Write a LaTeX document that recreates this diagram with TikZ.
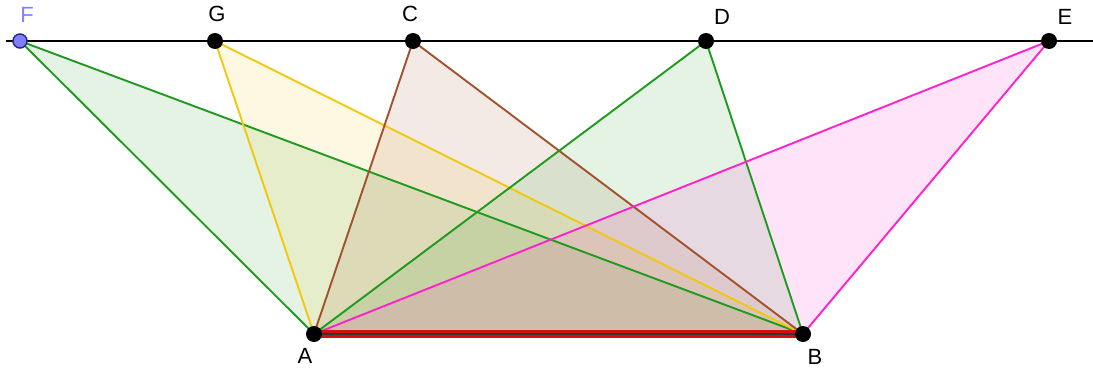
\documentclass[tikz,border=0pt]{standalone}
\usepackage{fontspec}
\setmainfont{Liberation Sans}
\usepackage{tikz}
\usetikzlibrary{positioning}
\definecolor{ggbgreen}{HTML}{1E9A1E}
\definecolor{ggbyellow}{HTML}{F2C80F}
\definecolor{ggbbrown}{HTML}{A0522D}
\definecolor{ggbpink}{HTML}{FF22CC}
\definecolor{ggbred}{HTML}{D01010}
\definecolor{ggbblue}{HTML}{7F7FFF}
\definecolor{ggbnavy}{HTML}{2A2A80}
\tikzset{
  pt/.style={circle,fill=black,inner sep=0pt,minimum size=16pt},
  lab/.style={font=\fontsize{22}{26}\selectfont,inner sep=0pt},
}

\begin{document}
\begin{tikzpicture}[x=1pt,y=-1pt,line width=1.9pt]
  \useasboundingbox (0,0) rectangle (1093,370);
  \coordinate (A) at (314,334);
  \coordinate (B) at (803,334);
  \coordinate (F) at (20,41);
  \coordinate (G) at (215,41);
  \coordinate (C) at (413,41);
  \coordinate (D) at (706,41);
  \coordinate (E) at (1049,41);
  \coordinate (l0) at (6,41);
  \coordinate (l1) at (1093,41);
  % the parallel through the tops
  \draw[black] (l0) -- (l1);
  % triangles on base AB
  \foreach \p/\c in {F/ggbgreen,G/ggbyellow,C/ggbbrown,D/ggbgreen,E/ggbpink} {
    \fill[\c,fill opacity=0.12] (A) -- (\p) -- (B) -- cycle;
  }
  \foreach \p/\c in {F/ggbgreen,G/ggbyellow,C/ggbbrown,D/ggbgreen,E/ggbpink} {
    \draw[\c] (A) -- (\p) -- (B);
  }
  \draw[ggbred,line width=8pt] (A) -- (B);
  \draw[black!80,line width=2.6pt] (A) -- (B);
  % points
  \foreach \p in {A,B,G,C,D,E} {
    \node[pt] (n\p) at (\p) {};
  }
  \node[pt,fill=ggbblue,draw=ggbnavy,line width=1.5pt,minimum size=14pt] (nF) at (F) {};
  % labels
  \node[lab,text=ggbblue] (tF) at (27,15) {F};
  \node[lab] (tG) at (217,14) {G};
  \node[lab] (tC) at (410,14) {C};
  \node[lab] (tD) at (722,17) {D};
  \node[lab] (tE) at (1065,17) {E};
  \node[lab] (tA) at (305,356) {A};
  \node[lab] (tB) at (815,357) {B};
\end{tikzpicture}
\end{document}
